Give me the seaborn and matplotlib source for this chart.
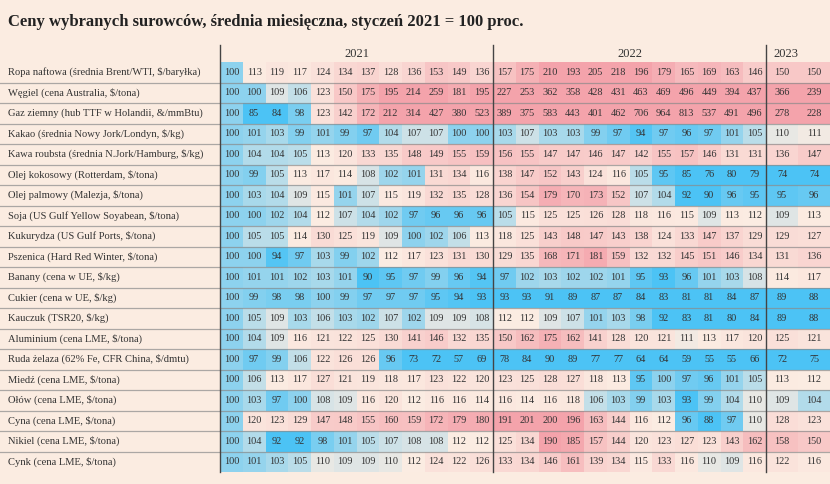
import numpy as np
import pandas as pd
import seaborn as sns
import matplotlib.pyplot as plt
from matplotlib.colors import LinearSegmentedColormap, TwoSlopeNorm
from matplotlib.lines import Line2D
from matplotlib.transforms import blended_transform_factory

title = "Ceny wybranych surowców, średnia miesięczna, styczeń 2021 = 100 proc."

labels = [
    "Ropa naftowa (średnia Brent/WTI, $/baryłka)",
    "Węgiel (cena Australia, $/tona)",
    "Gaz ziemny (hub TTF w Holandii, &/mmBtu)",
    "Kakao (średnia Nowy Jork/Londyn, $/kg)",
    "Kawa roubsta (średnia N.Jork/Hamburg, $/kg)",
    "Olej kokosowy (Rotterdam, $/tona)",
    "Olej palmowy (Malezja, $/tona)",
    "Soja (US Gulf Yellow Soyabean, $/tona)",
    "Kukurydza (US Gulf Ports, $/tona)",
    "Pszenica (Hard Red Winter, $/tona)",
    "Banany (cena w UE, $/kg)",
    "Cukier (cena w UE, $/kg)",
    "Kauczuk (TSR20, $/kg)",
    "Aluminium (cena LME, $/tona)",
    "Ruda żelaza (62% Fe, CFR China, $/dmtu)",
    "Miedź (cena LME, $/tona)",
    "Ołów (cena LME, $/tona)",
    "Cyna (cena LME, $/tona)",
    "Nikiel (cena LME, $/tona)",
    "Cynk (cena LME, $/tona)",
]

years = ["2021", "2022", "2023"]

values_2021 = [
    [100, 113, 119, 117, 124, 134, 137, 128, 136, 153, 149, 136],
    [100, 100, 109, 106, 123, 150, 175, 195, 214, 259, 181, 195],
    [100, 85, 84, 98, 123, 142, 172, 212, 314, 427, 380, 523],
    [100, 101, 103, 99, 101, 99, 97, 104, 107, 107, 100, 100],
    [100, 104, 104, 105, 113, 120, 133, 135, 148, 149, 155, 159],
    [100, 99, 105, 113, 117, 114, 108, 102, 101, 131, 134, 116],
    [100, 103, 104, 109, 115, 101, 107, 115, 119, 132, 135, 128],
    [100, 100, 102, 104, 112, 107, 104, 102, 97, 96, 96, 96],
    [100, 105, 105, 114, 130, 125, 119, 109, 100, 102, 106, 113],
    [100, 100, 94, 97, 103, 99, 102, 112, 117, 123, 131, 130],
    [100, 101, 101, 102, 103, 101, 90, 95, 97, 99, 96, 94],
    [100, 99, 98, 98, 100, 99, 97, 97, 97, 95, 94, 93],
    [100, 105, 109, 103, 106, 103, 102, 107, 102, 109, 109, 108],
    [100, 104, 109, 116, 121, 122, 125, 130, 141, 146, 132, 135],
    [100, 97, 99, 106, 122, 126, 126, 96, 73, 72, 57, 69],
    [100, 106, 113, 117, 127, 121, 119, 118, 117, 123, 122, 120],
    [100, 103, 97, 100, 108, 109, 116, 120, 112, 116, 116, 114],
    [100, 120, 123, 129, 147, 148, 155, 160, 159, 172, 179, 180],
    [100, 104, 92, 92, 98, 101, 105, 107, 108, 108, 112, 112],
    [100, 101, 103, 105, 110, 109, 109, 110, 112, 124, 122, 126],
]

values_2022 = [
    [157, 175, 210, 193, 205, 218, 196, 179, 165, 169, 163, 146],
    [227, 253, 362, 358, 428, 431, 463, 469, 496, 449, 394, 437],
    [389, 375, 583, 443, 401, 462, 706, 964, 813, 537, 491, 496],
    [103, 107, 103, 103, 99, 97, 94, 97, 96, 97, 101, 105],
    [156, 155, 147, 147, 146, 147, 142, 155, 157, 146, 131, 131],
    [138, 147, 152, 143, 124, 116, 105, 95, 85, 76, 80, 79],
    [136, 154, 179, 170, 173, 152, 107, 104, 92, 90, 96, 95],
    [105, 115, 125, 125, 126, 128, 118, 116, 115, 109, 113, 112],
    [118, 125, 143, 148, 147, 143, 138, 124, 133, 147, 137, 129],
    [129, 135, 168, 171, 181, 159, 132, 132, 145, 151, 146, 134],
    [97, 102, 103, 102, 102, 101, 95, 93, 96, 101, 103, 108],
    [93, 93, 91, 89, 87, 87, 84, 83, 81, 81, 84, 87],
    [112, 112, 109, 107, 101, 103, 98, 92, 83, 81, 80, 84],
    [150, 162, 175, 162, 141, 128, 120, 121, 111, 113, 117, 120],
    [78, 84, 90, 89, 77, 77, 64, 64, 59, 55, 55, 66],
    [123, 125, 128, 127, 118, 113, 95, 100, 97, 96, 101, 105],
    [116, 114, 116, 118, 106, 103, 99, 103, 93, 99, 104, 110],
    [191, 201, 200, 196, 163, 144, 116, 112, 96, 88, 97, 110],
    [125, 134, 190, 185, 157, 144, 120, 123, 127, 123, 143, 162],
    [133, 134, 146, 161, 139, 134, 115, 133, 116, 110, 109, 116],
]

values_2023 = [
    [150, 150], [366, 239], [278, 228], [110, 111], [136, 147],
    [74, 74], [95, 96], [109, 113], [129, 127], [131, 136],
    [114, 117], [89, 88], [89, 88], [125, 121], [72, 75],
    [113, 112], [109, 104], [128, 123], [158, 150], [122, 116],
]

# ---- data frames ----
cols_main = [f"{y}-{m:02d}" for y in years[:2] for m in range(1, 13)]
cols_2023 = [f"{years[2]}-{m:02d}" for m in range(1, 3)]
df_main = pd.DataFrame(np.hstack([np.array(values_2021), np.array(values_2022)]),
                       index=labels, columns=cols_main)
df_2023 = pd.DataFrame(np.array(values_2023), index=labels, columns=cols_2023)

# ---- style ----
BG = "#fbece1"
W, H = 830, 484
plt.rcParams["font.family"] = ["Liberation Serif", "DejaVu Serif"]

cmap = LinearSegmentedColormap.from_list("bp", ["#4cc3f5", "#fbece2", "#f4a3ab"])
norm = TwoSlopeNorm(vmin=93, vcenter=112, vmax=190)

fig = plt.figure(figsize=(W / 100, H / 100), dpi=100, facecolor=BG)

x0, x1, x2, x3 = 220, 766 - 273, 766, 830
ytop, ybot, yhead = 62, 472, 45

def fx(px):
    return px / W

def fy(py):
    return 1 - py / H

ax1 = fig.add_axes([fx(x0), fy(ybot), fx(x2) - fx(x0), fy(ytop) - fy(ybot)])
ax2 = fig.add_axes([fx(x2), fy(ybot), fx(x3) - fx(x2), fy(ytop) - fy(ybot)])

annot_kws = dict(fontsize=7.4, color="#333333")
for ax, df in [(ax1, df_main), (ax2, df_2023)]:
    sns.heatmap(df, ax=ax, cmap=cmap, norm=norm, annot=True, fmt="d",
                cbar=False, annot_kws=annot_kws, linewidths=0)
    ax.set_xticks([])
    ax.set_yticks([])
    ax.set_xlabel("")
    ax.set_ylabel("")

# row labels
tr = blended_transform_factory(fig.transFigure, ax1.transData)
for i, lab in enumerate(labels):
    fig.text(fx(8), i + 0.5, lab, transform=tr, ha="left", va="center",
             fontsize=7.6, color="#333333")

# row separators
for i in range(1, len(labels)):
    fig.add_artist(Line2D([0, 1], [i, i], transform=tr, color="#8a8a8a",
                          lw=0.9, alpha=0.7))

# vertical year separators
for xp in (x0, x1, x2):
    fig.add_artist(Line2D([fx(xp), fx(xp)], [fy(ybot), fy(yhead)],
                          transform=fig.transFigure, color="#444444", lw=1.0))

# year headers
fig.text(fx((x0 + x1) / 2), fy(54), years[0], ha="center", va="center",
         fontsize=9, color="#333333")
fig.text(fx((x1 + x2) / 2), fy(54), years[1], ha="center", va="center",
         fontsize=9, color="#333333")
fig.text(fx(786), fy(54), years[2], ha="center", va="center",
         fontsize=9, color="#333333")

# title
fig.text(fx(8), fy(22), title, ha="left", va="center", fontsize=12,
         fontweight="bold", color="#222222")

fig.savefig("out.png", dpi=100, facecolor=BG)
